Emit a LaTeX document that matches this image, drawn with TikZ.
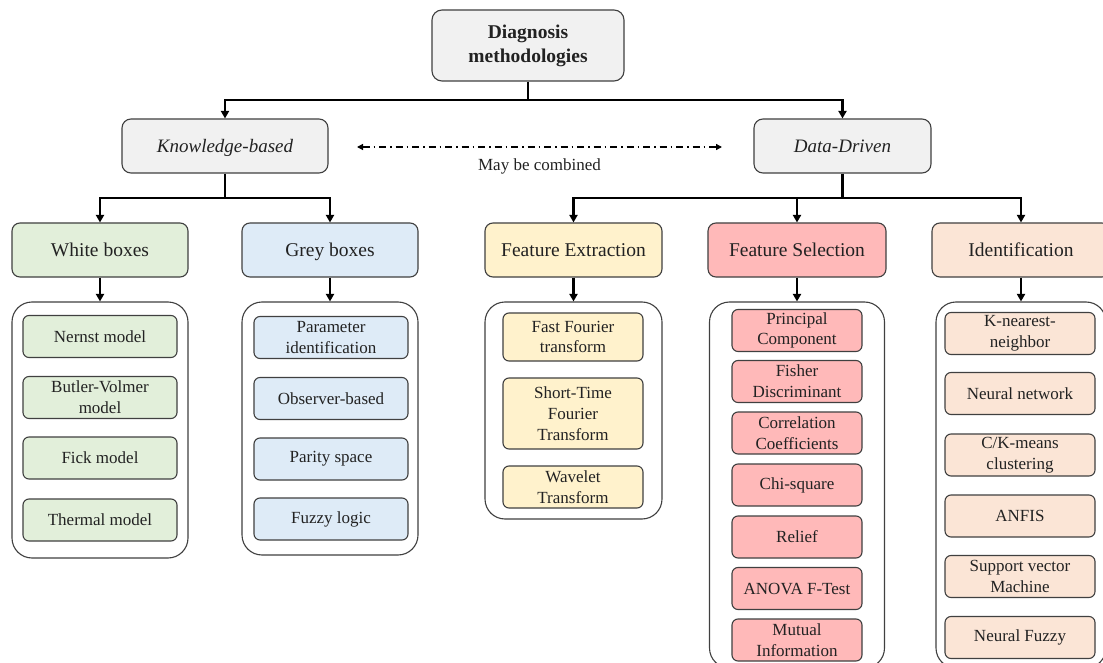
\documentclass[tikz,border=0pt]{standalone}
\usepackage{fontspec}
\setmainfont{Liberation Serif}
\usetikzlibrary{arrows.meta}

\definecolor{edge}{HTML}{404040}
\definecolor{ink}{HTML}{222222}
\definecolor{topfill}{HTML}{F1F1F1}
\definecolor{wfill}{HTML}{E2EFDA}
\definecolor{gfill}{HTML}{DEEBF7}
\definecolor{efill}{HTML}{FFF2CC}
\definecolor{sfill}{HTML}{FFB9B9}
\definecolor{ifill}{HTML}{FBE5D6}

\tikzset{
  box/.style={draw=edge, line width=1.1pt, rounded corners=7pt, inner sep=0pt,
              align=center, text=ink},
  rootbox/.style={box, fill=topfill, minimum width=192, minimum height=71,
              rounded corners=10pt, font=\bfseries\fontsize{19.5}{24}\selectfont},
  branch/.style={box, fill=topfill, minimum height=54, rounded corners=9pt,
              text height=16pt, text depth=2pt,
              font=\itshape\fontsize{19}{23}\selectfont},
  cat/.style={box, minimum width=176, minimum height=54, rounded corners=8pt,
              text height=16pt, text depth=2pt,
              font=\fontsize{19.5}{23}\selectfont},
  group/.style={draw=edge, line width=1.1pt, rounded corners=20pt, fill=white,
              inner sep=0pt},
  item/.style={box, minimum height=42, rounded corners=6pt,
              font=\fontsize{17}{20.8}\selectfont},
  link/.style={line width=2.4pt, draw=black},
  conn/.style={link, -{Triangle[length=7.5pt,width=8pt]}},
  combine/.style={line width=1.3pt, draw=black,
              dash pattern=on 7pt off 4pt on 1.5pt off 4pt,
              {Triangle[length=6pt,width=6pt]}-{Triangle[length=6pt,width=6pt]}},
}

\begin{document}
\begin{tikzpicture}[x=1pt,y=-1pt]
  \clip (0,0) rectangle (1103,663);
  \fill[white] (0,0) rectangle (1103,663);

  % root and the two families
  \node[rootbox] (root) at (528,45.5) {Diagnosis\\methodologies};
  \node[branch, minimum width=206] (kb) at (225,146) {Knowledge-based};
  \node[branch, minimum width=177] (dd) at (842.5,146) {Data-Driven};

  \coordinate (rj) at (528,100);
  \draw[conn] (root.south) -- (rj) -| (kb.north);
  \draw[conn] (rj) -| (dd.north);

  % dash-dotted double arrow between the families
  \coordinate (cl) at (357,147);
  \coordinate (cr) at (722,147);
  \draw[combine] (cl) -- (cr);
  \node[font=\fontsize{17}{20}\selectfont, text=ink] (comb) at (539.5,166) {May be combined};

  % categories
  \node[cat, fill=wfill] (wb) at (100,250) {White boxes};
  \node[cat, fill=gfill] (gb) at (330,250) {Grey boxes};
  \node[cat, fill=efill, minimum width=177] (fe) at (573.5,250) {Feature Extraction};
  \node[cat, fill=sfill, minimum width=178] (fs) at (797,250) {Feature Selection};
  \node[cat, fill=ifill, minimum width=178] (id) at (1021,250) {Identification};

  \coordinate (kj) at (225,198);
  \draw[conn] (kb.south) -- (kj) -| (wb.north);
  \draw[conn] (kj) -| (gb.north);

  \coordinate (dj) at (842.5,198);
  \draw[link] (dd.south) -- (dj);
  \draw[conn] (dj) -| (fe.north);
  \draw[conn] (dj) -| (fs.north);
  \draw[conn] (dj) -| (id.north);

  % groups holding the methods
  \node[group, minimum width=176, minimum height=256] (wg) at (100,430) {};
  \node[group, minimum width=176, minimum height=253] (gg) at (330,428.5) {};
  \node[group, minimum width=177, minimum height=217] (eg) at (573.5,410.5) {};
  \node[group, minimum width=175, minimum height=366] (sg) at (797,485) {};
  \node[group, minimum width=170, minimum height=366] (ig) at (1021,485) {};

  \draw[conn] (wb.south) -- (wg.north);
  \draw[conn] (gb.south) -- (gg.north);
  \draw[conn] (fe.south) -- (eg.north);
  \draw[conn] (fs.south) -- (sg.north);
  \draw[conn] (id.south) -- (ig.north);

  % white-box models
  \node[item, fill=wfill, minimum width=154] (w1) at (100,336.5) {Nernst model};
  \node[item, fill=wfill, minimum width=154] (w2) at (100,397.5) {Butler-Volmer\\model};
  \node[item, fill=wfill, minimum width=154] (w3) at (100,458) {Fick model};
  \node[item, fill=wfill, minimum width=154] (w4) at (100,520) {Thermal model};

  % grey-box methods
  \node[item, fill=gfill, minimum width=154] (g1) at (331,337.5) {Parameter\\identification};
  \node[item, fill=gfill, minimum width=154] (g2) at (331,398.5) {Observer-based};
  \node[item, fill=gfill, minimum width=154] (g3) at (331,459) {Parity space};
  \node[item, fill=gfill, minimum width=154] (g4) at (331,519) {Fuzzy logic};

  % feature extraction
  \node[item, fill=efill, minimum width=140, minimum height=48] (e1) at (573,337) {Fast Fourier\\transform};
  \node[item, fill=efill, minimum width=140, minimum height=71] (e2) at (573,413.5) {Short-Time\\Fourier\\Transform};
  \node[item, fill=efill, minimum width=140] (e3) at (573,487) {Wavelet\\Transform};

  % feature selection
  \node[item, fill=sfill, minimum width=130] (s1) at (797,330.5) {Principal\\Component};
  \node[item, fill=sfill, minimum width=130] (s2) at (797,381.5) {Fisher\\Discriminant};
  \node[item, fill=sfill, minimum width=130] (s3) at (797,433) {Correlation\\Coefficients};
  \node[item, fill=sfill, minimum width=130] (s4) at (797,485) {Chi-square};
  \node[item, fill=sfill, minimum width=130] (s5) at (797,537) {Relief};
  \node[item, fill=sfill, minimum width=130] (s6) at (797,588.5) {ANOVA F-Test};
  \node[item, fill=sfill, minimum width=130] (s7) at (797,640) {Mutual\\Information};

  % identification
  \node[item, fill=ifill, minimum width=150] (i1) at (1020,333.5) {K-nearest-\\neighbor};
  \node[item, fill=ifill, minimum width=150] (i2) at (1020,393.5) {Neural network};
  \node[item, fill=ifill, minimum width=150] (i3) at (1020,455) {C/K-means\\clustering};
  \node[item, fill=ifill, minimum width=150] (i4) at (1020,516) {ANFIS};
  \node[item, fill=ifill, minimum width=150] (i5) at (1020,576.5) {Support vector\\Machine};
  \node[item, fill=ifill, minimum width=150] (i6) at (1020,637.5) {Neural Fuzzy};
\end{tikzpicture}
\end{document}
